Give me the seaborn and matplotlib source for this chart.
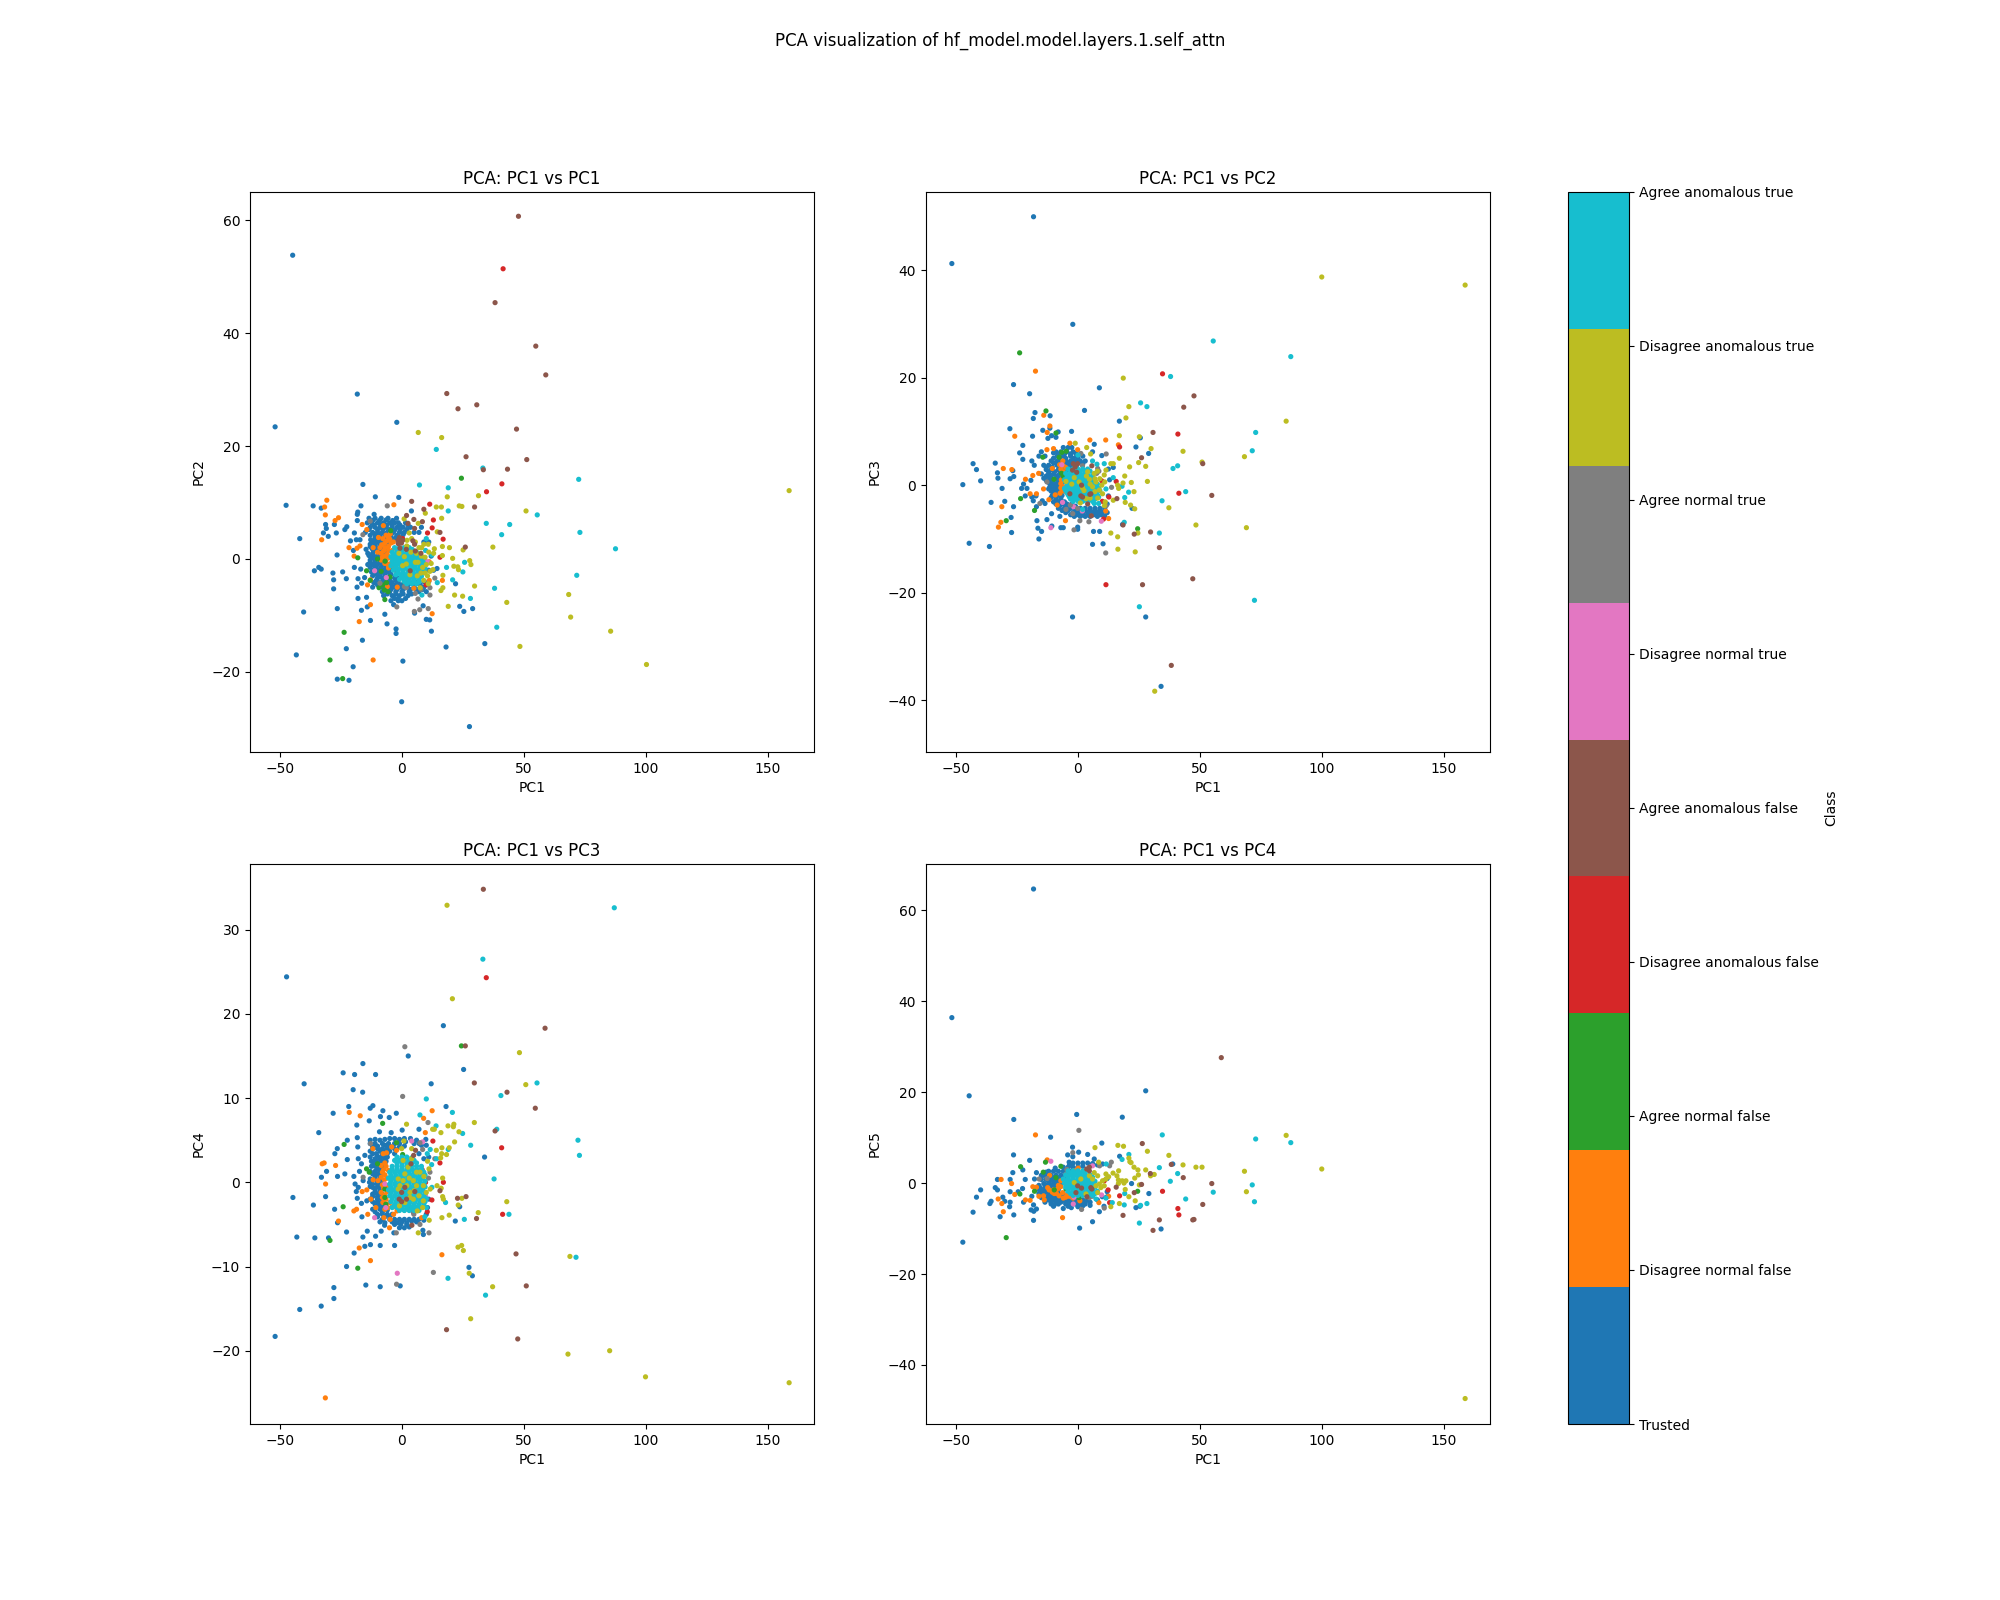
import matplotlib
matplotlib.use('Agg')
import matplotlib.pyplot as plt
import pandas as pd
import seaborn as sns
from matplotlib.cm import ScalarMappable
from matplotlib.colors import Normalize

class_names = ['Trusted', 'Disagree normal false', 'Agree normal false',
               'Disagree anomalous false', 'Agree anomalous false',
               'Disagree normal true', 'Agree normal true',
               'Disagree anomalous true', 'Agree anomalous true']

# panel 1: PC1 vs PC2
p1_trusted = [(-44.8,53.8),(-18.3,29.2),(-2.1,24.2),(-52,23.4),(-16,13.2),(-10.9,11),(-1.3,10.9),(-47.5,9.5),(-36.4,9.4),(-33.1,9),(-16.8,9.4),(3.9,8.5),(-18.1,8.3),(-18.3,7.9),(-11.4,7.9),(-18.3,6.8),(-31.3,6.1),(-31,5.4),(-27.7,6.1),(-22.6,5.7),(-23.4,5.2),(-26.9,4.6),(-32.2,4.6),(-30.2,4),(-41.9,3.6),(-19.5,4.6),(-21.1,3.2),(-18.7,3.4),(-17.2,3.4),(-26.6,0.7),(-19.9,1.5),(-14.7,1.7),(-35.9,-2.1),(-34.1,-1.5),(-33.1,-1.8),(-28.3,-2.5),(-24.3,-2.3),(-28,-3.7),(-22.8,-3.5),(-28,-5.3),(-18,-3.5),(-15.3,-3.3),(-16.5,-4.3),(-18.4,-5),(-19.5,-1.5),(-16.9,-1.8),(-18,-7),(-14.5,-6.8),(-16.6,-9.1),(-14.2,-8.5),(-40.3,-9.4),(-26.5,-8.8),(-12.9,-10.9),(-7,-9.8),(-6.1,-11.5),(-3.4,-8.1),(-1.5,-7.4),(-2.4,-12.4),(-2.4,-13.2),(-16.2,-14.4),(-22.8,-15.9),(-43.3,-17),(-20,-19.1),(-26.5,-21.3),(-21.7,-21.5),(0.4,-18.1),(-0.1,-25.3),(27.7,-29.7),(12.1,-12.8),(18.1,-15.6),(34,-15),(10,-10.7),(11.4,-10.8),(5.2,-9.6),(8.7,-8.3),(23.7,-8.4),(25.4,-9.3),(29,-8.8),(22,-4.4),(14.4,-1.7),
    (-13.5,7.2),(-11,7.2),(-8.5,7.2),(-5.7,7.2),(-2.2,7.2),(-14.2,6.4),(-12.5,6.4),(-10,6.4),(-7.5,6.4),(-5,6.4),(-3,6.4),(-1.5,6.4),(1.5,6.4),(-13,5.6),(-11,5.6),(-9,5.6),(-6.5,5.6),(-4,5.6),(-2,5.6),(0.5,5.6),(3.5,5.6),(8,5.6),(-15,4.7),(-12,4.7),(-10,4.7),(-8,4.7),(-6,4.7),(-3.5,4.7),(-1,4.7),(1,4.7),(5,4.7),(7,4.7),(-11,3.8),(-9,3.8),(-7,3.8),(-5,3.8),(-2.5,3.8),(-12,3),(-10,3),(-8,3),(-6,3),(9,3),(11,3),(-13,2.2),(-11,2.2),(-9,2.2),(-7,2.2),(-11.5,1.4),(-9.5,1.4),(-7.5,1.4),(-6,1.4),(-13.5,0.6),(-12,0.6),(-10,0.6),(-8,0.6),(-6.5,0.6),(12,0.5),(-13,-0.2),(-11,-0.2),(-9,-0.2),(-7,-0.2),(-14,-1),(-12,-1),(-10,-1),(-8,-1),(-6,-1),(-11.5,-1.9),(-9.5,-1.9),(-7,-1.9),(-5,-1.9),(11,-2),(13,-2),(-11,-2.7),(-9,-2.7),(-7,-2.7),(-4.5,-2.7),(-10,-3.4),(-8,-3.4),(-5.5,-3.4),(-3,-3.4),(-1,-3.4),(-11.5,-4.2),(-9,-4.2),(-6,-4.2),(-4,-4.2),(-1.5,-4.2),(1,-4.2),(3.5,-4.2),(6,-4.2),(9,-4),(11,-4),(-12,-5),(-8,-5),(-6,-5),(-3.5,-5),(-1,-5),(2,-5),(5,-5),(9,-5),(-8,-5.8),(-5,-5.8),(-2.5,-5.8),(0,-5.8),(3,-5.8),(7,-5.8),(10,-5.8),(-7.5,-6.5),(-4,-6.5),(-1,-6.5),(2.5,-6.5),(-4.5,-7.4),(0,-7.4),
    (-12,6.8),(-9.2,6.8),(-6.5,6.9),(-3.8,6.8),(-11.5,6),(-8.7,6),(-6.2,6),(-4,6),(-0.8,6),(2.5,6),(-13.5,5.2),(-10,5.2),(-7.8,5.2),(-5.2,5.2),(-3,5.1),(-0.8,5.2),(2,5.2),(-13,4.2),(-11,4.3),(-9,4.2),(-7,4.3),(-4.5,4.2),(-2,4.2),(0.5,4.3),(-12.8,3.4),(-11,3.4),(-9,3.4),(-7,3.4),(-3.5,3.5),(-13,2.6),(-11,2.6),(-9,2.6),(-7,2.6),(-12.2,1.8),(-10,1.8),(-8,1.8),(-14,1),(-12,1),(-9,1),(-7,1),(-12.5,0.2),(-11,0.2),(-9,0.2),(-7.5,0.2),(-13,-0.6),(-11,-0.6),(-9,-0.6),(-7.5,-0.6),(-13,-1.5),(-10.8,-1.5),(-8.5,-1.5),(-6.5,-1.5),(-12.5,-2.3),(-10,-2.3),(-8,-2.3),(-6,-2.3),(-12,-3),(-9.5,-3),(-7,-3.1),(-5,-3),(-2.5,-3),(-10.5,-3.8),(-7.5,-3.8),(-5,-3.8),(-2.5,-3.8),(-10,-4.6),(-7.5,-4.6),(-5,-4.6),(-2.5,-4.6),(0,-4.6),(2.5,-4.6),(5,-4.6),(7.5,-4.6),(-7,-5.4),(-4.5,-5.4),(-2,-5.4),(0.5,-5.4),(3.5,-5.4),(6,-5.4),(8.5,-5.4),(-6,-6.2),(-2.5,-6.2),(0.5,-6.2),(4,-6.2),(-3,-7),(-1.5,-7),(1.5,-7)]
p1_dn_false = [(-30.8,10.4),(-31.7,9.2),(-31.4,7.8),(-26,7.3),(-27.4,6.8),(-32.9,3.4),(-21.7,2),(-18.4,1.9),(-17.2,2.3),(-19.6,0.5),(-3.3,9.6),(-16.3,6.1),(-14.4,5.2),(-7.6,5.9),(-11.8,2),(-12.9,-8.1),(-17.5,-11.1),(-11.8,-17.9),(-14.1,-4.6),(-12.9,-3.7),(-1.9,-5),(4.9,-5.2),(12.4,-9.7),(11.2,-3.8),(16.6,-3.8),(11.2,-0.5),(-6,-4.9),(-9.6,3.8),
    (-6.5,4.2),(-5,3.5),(-7,2.8),(-5.5,2.2),(-9,2),(-7.5,1.4),(-10,1.2),(-6,0.8),(-8,0.3),(-6.5,-0.3),(-4.5,-0.8),(-7,-0.8),(-5.5,-1.6),(-3.5,3),(-4,1.5),(-4.8,4.4),(-3.6,-1.2),(-8.5,1),
    (-7.8,3.6),(-6.2,3.2),(-4.5,2.8),(-7,2),(-5.5,1.5),(-8.3,2.5),(-5.5,3.8),(-7,0.5),(-5.2,0.2),(-5.8,-1),(-8.5,-0.2)]
p1_an_false = [(24.4,14.3),(-18.1,0.2),(-14.5,-2.1),(-23.7,-13),(-29.5,-17.9),(-24.3,-21.2),(-7,-7.2),(-13,-3.8),(-10,0),(-8.5,-2.2),(-9.4,-5.1),(-7.9,-4.6),(-6.3,-4.2),(-4.9,-3.2),(-7.2,-5.5),(-5.7,-5.8),(-4.6,5),(1,-4),(-6.9,-0.4)]
p1_dx_false = [(41.5,51.4),(41,13.3),(34.7,11.9),(11.4,9.7),(12.9,6.9),(12.4,5.5),(10.5,4.6),(16.9,3.5),(15.6,0.3),(9.9,-4.6),(0.3,3.6),(7,0.5)]
p1_ax_false = [(47.8,60.7),(38.2,45.4),(54.9,37.7),(59,32.6),(18.4,29.3),(23,26.6),(30.7,27.3),(47,23),(26.3,18.1),(51.2,17.6),(33.4,15.8),(43.3,15.9),(4,10.2),(29.8,9.2),(9,8.8),(1.9,7.7),(4.9,7),(8.4,6.6),(2.5,6.3),(5.2,5.4),(15.6,4.7),(26,2.1),(3.4,-2.1),(-1,3.8),(-0.2,2.8),(-1.5,2.7),(-0.8,1.9),(0.3,3.3),(-1.6,3.3),(4.5,3.2),(5.2,2.6),(5.5,1.4),(1.8,1.7),(7.8,1)]
p1_dn_true = [(-11.2,-2.1),(-6.4,-3.3),(9.7,-0.3),(10.8,-0.6)]
p1_an_true = [(-6,9.4),(-13,6.7),(-16,4.3),(-2.1,-8.5),(5.1,-9.3),(7.3,-9),(10.8,-8.8),(6.6,-7.1),(5.5,-6.1),(11.5,-6.4),(1.8,-5.1),(1,-4.9),(13.5,-3.4),(-2.2,-2.2),(0.7,-3),(6,-4.4),(7.8,-5.4),(11.5,-5.1),(-9,-4.3),(4.2,-1.5)]
p1_dx_true = [(6.7,22.4),(16.3,21.5),(31.4,11.2),(18.6,11),(158.8,12.1),(14.1,9.2),(16.2,9.2),(23.5,9.4),(24.6,9.3),(50.9,8.5),(9.6,8.1),(16.3,7.2),(0.9,7.1),(6.7,6.3),(14.5,4.8),(37.3,2.1),(25.1,1.6),(19.5,2),(16.6,2.2),(13.3,1.8),(16.6,0.6),(20.8,0.1),(27.8,-0.3),(28.3,-1),(21.3,-1.3),(22.9,-1.4),(23.2,-1.9),(16.8,-2.9),(29.8,-4.8),(16.8,-5.1),(16,-5.6),(21.6,-6.4),(24.9,-6.6),(19,-8.4),(43,-7.7),(68.4,-6.3),(69.2,-10.3),(85.6,-12.8),(48.4,-15.5),(100.3,-18.7),
    (3,4.6),(2.1,3.3),(4,3.6),(7,2),(9,2.6),(10.8,2.6),(8.1,2),(1,0.4),(-1.2,1),(3.7,1.2),(5.5,-0.6),(6.6,-0.6),(1.8,-0.9),(7.8,-2.5),(6.3,-3),(11.5,-2.2),(12.7,-1.9),(9,-3.8),(7.5,-5.1),(13,1),(0.3,-1.2),(8.5,-1.5),(3.3,-2.8),(10.8,-4.4),
    (11,1.2),(9.5,0.3),(12,-0.8),(10,-1),(10.5,-3),(6,1),(8,0.5),(9.5,-2.5),(2,2.3),(5.5,3)]
p1_ax_true = [(72.5,14.1),(14.1,19.4),(33.2,16.1),(7.2,13.1),(19,12.6),(19,8.5),(55.5,7.8),(34.6,6.3),(44.2,6.1),(40.9,4.3),(73,4.7),(87.6,1.8),(71.7,-2.9),(25.7,-0.6),(25,-2.3),(18.3,-1.5),(20.8,-3.7),(14.5,-4.2),(38,-5.2),(28.1,-7),(38.9,-12.1),(8.2,-6.4),(12.3,0.7),(10,3.6),(9.7,1.5),
    (-3,2),(-1,2),(1,2),(3,2),(-4,1.2),(-2,1.2),(0,1.2),(2,1.2),(4,1.2),(6,1.2),(-4.5,0.4),(-2.5,0.4),(-0.5,0.4),(1.5,0.4),(3.5,0.4),(5.5,0.4),(7.5,0.4),(-4,-0.4),(-2,-0.4),(0,-0.4),(2,-0.4),(4,-0.4),(6,-0.4),(8,-0.4),(-4.5,-1.2),(-2.5,-1.2),(-0.5,-1.2),(1.5,-1.2),(3.5,-1.2),(5.5,-1.2),(7.5,-1.2),(9,-1.2),(-3.5,-2),(-1.5,-2),(0.5,-2),(2.5,-2),(4.5,-2),(6.5,-2),(8.5,-2),(-2.5,-2.8),(-0.5,-2.8),(1.5,-2.8),(3.5,-2.8),(5.5,-2.8),(7.5,-2.8),(-1,-3.6),(1,-3.6),(3,-3.6),(5,-3.6),(7,-3.6),(2,-4.4),(4,-4.4),(6,-4.4),
    (-2,1.6),(0,1.7),(2.2,1.6),(4.2,1.7),(-3.3,0.8),(-1.2,0.9),(1,0.8),(3,0.8),(5,0.9),(7,0.8),(-3.4,0),(-1.1,0.1),(0.8,0),(2.9,0.1),(5,0),(7,0),(9,0.1),(-3.5,-0.8),(-1.3,-0.8),(1,-0.7),(3,-0.8),(5,-0.8),(7,-0.8),(8.8,-0.7),(-2.6,-1.6),(-0.6,-1.6),(1.4,-1.6),(3.6,-1.5),(5.5,-1.6),(7.5,-1.6),(9.5,-1.7),(-1.6,-2.4),(0.4,-2.4),(2.5,-2.4),(4.4,-2.4),(6.5,-2.3),(8.5,-2.5),(0,-3.2),(2,-3.2),(4,-3.2),(6,-3.2),(8,-3.1),(1,-4),(3,-4),(5,-4),(7,-4.1)]

# panel 2: PC1 vs PC3
p2_trusted = [(-18.2,49.9),(-51.7,41.2),(-2.1,29.9),(-26.4,18.7),(-19.8,17),(8.8,18.1),(2.7,13.9),(-17.6,13.5),(-18.3,12.4),(-11.4,12.9),(17,11.9),(-27.9,10.5),(-14.4,10.2),(-11.5,10.6),(-8.1,9.9),(-2.6,10),(-18.6,9.1),(-10.8,9.2),(-12.3,8.7),(-9,8.9),(25.6,8.8),(-22.6,7.4),(23.8,7.1),(6.7,7.6),(29,5.9),(-23.9,6),(-22.6,4.8),(-43,4),(-33.9,4.1),(-41.6,2.9),(-33,2.3),(-32.8,1.3),(-39.9,0.8),(-47.2,0.1),(-27.8,1.2),(-26.3,1.6),(-26.7,2.7),(-31.1,-0.6),(-22.3,0.2),(-23.1,-0.6),(-20.9,-0.6),(-19.3,0.9),(-18.9,4.5),(-17.9,3.7),(-35.6,-3.2),(-30,-3),(-26.4,-4),(-27.4,-6),(-27.2,-8.8),(-44.6,-10.8),(-36.3,-11.4),(-16.8,-6.6),(-12.7,-6.4),(-16.4,-8),(-14.9,-8.6),(-16,-10),(-10.7,-7.6),(-7,-7.9),(-6,-7.9),(-0.1,-7.8),(-0.1,-8.2),(6.4,-8.6),(8.9,-8.6),(6,-11),(10.3,-10.9),(-2.2,-24.5),(27.8,-24.5),(34.1,-37.4),(18.3,-7.3),(-7.4,-5.8),(-10.8,-5.3),(-17,-4),(-13.5,-3.4),(-21.6,-2),(-18.9,-2.2),(-17.2,-2),(-18.3,-2.9),(-14.6,-2.9),(22.2,-4.3),(14.5,3.3),(9.8,5.5),
    (-6,7),(-4,7),(-2.5,7),(-15,6.2),(-9,6.2),(-7,6.2),(-4.5,6.2),(-2,6.2),(6,6.2),(-16,5.4),(-13.5,5.4),(-8.5,5.4),(-6,5.4),(-3,5.4),(-0.5,5.4),(2,5.4),(-11,4.5),(-8.5,4.5),(-7,4.5),(-5,4.5),(-3,4.5),(-1,4.5),(1,4.5),(3,4.5),(-14,3.7),(-12,3.7),(-8.5,3.7),(-6.5,3.7),(-4.5,3.7),(-2.5,3.7),(-0.5,3.7),(-13,2.9),(-11,2.9),(-8,2.9),(-6,2.9),(-4,2.9),(-15,2.1),(-12,2.1),(-10,2.1),(-7.5,2.1),(-5.5,2.1),(-14,1.3),(-11.5,1.3),(-9,1.3),(-7,1.3),(-12,0.5),(-10,0.5),(-8,0.5),(-6.5,0.5),(-11.5,-0.3),(-9.5,-0.3),(-7.5,-0.3),(-11,-1.1),(-8.5,-1.1),(-6.5,-1.1),(-10.5,-1.9),(-8.5,-1.9),(-6.5,-1.9),(-9,-2.7),(-7,-2.7),(-9,-3.5),(-6.5,-3.5),(-4.5,-3.5),(-2.5,-3.5),(-8,-4.3),(-5.5,-4.3),(-3,-4.3),(-1,-4.3),(1,-4.3),(3,-4.3),(5,-4.3),(7,-4.3),(9,-4.3),(11,-4.3),(-5,-5.1),(-2,-5.1),(0,-5.1),(2,-5.1),(4,-5.1),(6,-5.1),(8,-5.1),(10,-5.1),(12,-5.1),(-1.5,-5.8),(1,-5.8),(3,-5.8),(5,-5.8),(8,-5.8),(11,-5.8),
    (-10,6),(-8,5.8),(-5.5,5.8),(-3,5.8),(-0.8,5.9),(-10,5),(-7.5,5),(-5,5),(-2,5),(0,5),(-10,4.1),(-7.8,4.1),(-6,4.1),(-4,4.1),(-2,4.1),(0,4.1),(2,4),(-13,3.3),(-10.5,3.3),(-7.3,3.3),(-5.5,3.3),(-3.5,3.3),(-12,2.5),(-9.5,2.5),(-7,2.5),(-5,2.5),(-13,1.7),(-11,1.7),(-8.5,1.7),(-6.5,1.7),(-13,0.9),(-10.5,0.9),(-8,0.9),(-11,0.1),(-9,0.1),(-7,0.1),(-12,-0.7),(-10,-0.7),(-8,-0.7),(-9.5,-1.5),(-7.5,-1.5),(-11,-2.3),(-9,-2.3),(-7,-2.3),(-10,-3.1),(-8,-3.1),(-5.5,-3.1),(-7.5,-3.9),(-5,-3.9),(-3,-3.9),(-1,-3.9),(-6.5,-4.7),(-4,-4.7),(-1,-4.7),(1,-4.7),(3,-4.7),(5,-4.7),(7,-4.7),(9,-4.7),(11,-4.7),(-3,-5.5),(-0.5,-5.5),(2,-5.5),(4,-5.5),(6.5,-5.5),(9.5,-5.5),(12,-3.5),(12.5,-2),(13,1),(12.5,3)]
p2_dn_false = [(-17.4,21.2),(-14,13),(-11.5,11),(-12.6,9.8),(-25.9,9.1),(4.9,8.4),(11.4,8.4),(16.6,7.5),(-3.3,7.8),(-12.7,6.6),(-10,6.8),(-0.1,6.6),(-30.6,3.1),(-27.1,2.9),(-21.5,1.1),(-18.5,1.8),(-16.1,2.2),(-10.5,3.1),(-14.1,-0.7),(-19.6,-1.6),(-17,-1.6),(-11.9,-2.7),(-9.3,-1.8),(-8.5,-3.7),(-31.2,-4),(-31.6,-6.9),(-32.6,-7.8),(-5.1,-6.6),(11.4,-4.8),(12.6,-6.2),(-6.2,4.5),
    (-7.5,3.8),(-6,3.6),(-5,3.3),(-7,3),(-6,2.5),(-6.8,1),(-7,0.3),(-7,-0.5),(-6.5,-1),(-7.3,-1.5),(-5.5,-0.3),(-5,-1.2),(-6,1.8),(-3.5,-0.5),(-2,-0.2)]
p2_an_false = [(-23.9,24.6),(-13.1,13.8),(-9,9.7),(-6.6,6.1),(-4.8,6.3),(-7.7,5.2),(-14.4,5.2),(-9.8,1.1),(-6.7,2.2),(-5.9,1.6),(-23.5,-2.5),(-17.8,-4.7),(-29.4,-6.6),(24.5,-8.1)]
p2_dx_false = [(34.7,20.7),(41,9.5),(17.1,7.1),(9.8,0.8),(15.7,0.7),(41.4,-1.5),(12.7,-2.2),(11.5,-18.5),(10.5,-6.3),(10,-3)]
p2_ax_false = [(47.6,16.6),(43.4,14.5),(30.8,9.8),(26.1,5.1),(51.2,4),(54.9,-1.9),(18.5,-7.4),(23.1,-9.1),(29.8,-8.7),(33.4,-11.6),(47.1,-17.4),(26.5,-18.5),(38.3,-33.5),(16,-2.5),(5.5,-5.7),(-1.9,4),(-0.1,4),(-1.1,3.4),(5.7,3.6),(-2.2,2.8),(-0.5,2.4),(1.5,0),(-3.3,-1.6),(1.9,-2.2),(4.9,-1.7),(4,-3.5),(5.3,-1.6),(1.2,-2)]
p2_dn_true = [(-11.1,-7.9),(-6.3,-3.2),(-1.8,-4),(1.8,-4.8),(9.6,-6.7),(-6.6,3.8)]
p2_an_true = [(11.6,5.8),(1.2,5.9),(-12.7,0.6),(-15.6,-3.4),(13.8,-0.4),(11.6,-3.8),(-4.9,-4.5),(-3.1,-3.7),(-2.1,-5.3),(0.8,-6.6),(4.5,-6.8),(-1.6,-8.3),(11.4,-12.6),(8.6,2.6),(7.7,2.2),(-0.1,-4.3),(1.9,3.6),(8.1,3.1)]
p2_dx_true = [(100,38.7),(158.8,37.2),(85.4,11.9),(18.6,19.9),(20.9,14.6),(19.7,12.5),(17,9.2),(25.2,9),(30,6.8),(43.1,6.3),(68.3,5.3),(50.9,4.3),(-1.1,7.8),(3.6,7),(5.2,5.8),(17,5),(13.5,4),(14.5,4),(21.2,3.4),(24.9,4.2),(27.8,3.5),(19.2,1.7),(28.5,0.7),(21.9,0.5),(18.5,0.4),(16.3,0),(16.7,-0.6),(23,-1.2),(19.4,-3.2),(21.6,-3.7),(23.3,-4.4),(37.3,-4.2),(11.2,-3.1),(10.9,-3.8),(14.5,-2.8),(48.4,-7.4),(69.1,-7.9),(13.5,-8.9),(16.3,-9.6),(24.6,-8.9),(16.4,-11.9),(23.5,-12.4),(31.5,-38.3),
    (4,2.5),(6.7,2.2),(11.5,2.8),(10.8,1.9),(-4.9,0.7),(0.5,0.6),(4.7,1.1),(7.4,0.6),(9.8,0),(1.9,-0.5),(6,-0.3),(8.8,-0.9),(-1.5,1.4),(1,-3.3),(10.1,-1.6),(8.1,-2.4),(3.3,-2.5),
    (5,0.2),(3.5,1.7),(7,1.2),(9,1.2),(11,0.6),(2.5,-1),(5,-2.4),(7,-1.2),(-2.5,0.2),(8,2.6)]
p2_ax_true = [(55.5,26.8),(87.3,23.9),(38,20.2),(25.7,15.3),(28.3,14.6),(72.9,9.8),(71.5,6.4),(40.9,3.6),(39,3.1),(14.5,1.4),(18.1,-0.2),(20.8,-1.3),(44.2,-1.2),(19.2,-2.3),(34.5,-2.9),(19,-6.9),(33.4,-8.9),(25.2,-22.6),(72.4,-21.4),(0,5.6),(6,4.5),(7.8,3.9),(10.8,4),(11.5,-0.7),(8.5,-3.4),(6.7,-3.4),(1.9,-4.5),
    (-4,3),(-2,3),(0,3),(2,3),(4,3),(-5,2.2),(-3,2.2),(-1,2.2),(1,2.2),(3,2.2),(-4.5,1.4),(-2.5,1.4),(-0.5,1.4),(1.5,1.4),(3.5,1.4),(5.5,1.4),(-5,0.6),(-3,0.6),(-1,0.6),(1,0.6),(3,0.6),(5,0.6),(7,0.6),(-4.5,-0.2),(-2.5,-0.2),(-0.5,-0.2),(1.5,-0.2),(3.5,-0.2),(5.5,-0.2),(7.5,-0.2),(-5,-1),(-3,-1),(-1,-1),(1,-1),(3,-1),(5,-1),(7,-1),(9,-1),(-4,-1.8),(-2,-1.8),(0,-1.8),(2,-1.8),(4,-1.8),(6,-1.8),(8,-1.8),(-3,-2.6),(-1,-2.6),(1,-2.6),(3,-2.6),(5,-2.6),(7,-2.6),
    (-3,2.6),(-1,2.6),(1,2.6),(3,2.6),(5,2.6),(-4,1.8),(-2,1.8),(0,1.8),(2,1.8),(4,1.8),(6,1.8),(-5.5,1),(-3.5,1),(-1.5,1),(0.5,1),(2.5,1),(4.5,1),(6.5,1),(-4,0.2),(-2,0.2),(0,0.2),(2,0.2),(4,0.2),(6,0.2),(8,0.2),(-5.5,-0.6),(-3.5,-0.6),(-1.5,-0.6),(0.5,-0.6),(2.5,-0.6),(4.5,-0.6),(6.5,-0.6),(8.5,-0.6),(-4.5,-1.4),(-2.5,-1.4),(-0.5,-1.4),(1.5,-1.4),(3.5,-1.4),(5.5,-1.4),(7.5,-1.4),(-3.5,-2.2),(-1.5,-2.2),(0.5,-2.2),(2.5,-2.2),(4.5,-2.2),(6.5,-2.2),(8.5,-2.2),(-2,-3),(0,-3),(2,-3),(4,-3),(6,-3)]

# panel 3: PC1 vs PC4
p3_trusted = [(-47.3,24.4),(17,18.6),(2.6,15),(-16,14.1),(-24.1,13),(-19.4,12.8),(-10.8,12.8),(-40.1,11.7),(25.3,13.4),(12,11.7),(-20,11),(-16.1,10.7),(-21.8,9),(-13,8.8),(-11.9,9.1),(-7.8,8.5),(-2.3,8.2),(-28.2,8.2),(-13.4,7.3),(-8.8,7.8),(-5.2,7.7),(18.1,9),(-18.5,6.8),(-34.1,5.9),(0.1,6.2),(7,6.3),(-9.2,6),(-4.4,5.9),(-22.4,5),(-18.3,5.3),(-26.5,4),(-18.1,4.2),(-27.5,3.4),(-15.2,3.2),(-17.9,2.8),(-22.4,2.7),(33.9,3),(-16.6,2.2),(-30.9,1.3),(-26.4,0.7),(-33,0.6),(-23.4,1),(-19.7,0.7),(-17.4,1.3),(-15.9,0.2),(-19.2,-0.2),(-17.9,-0.6),(-18.7,-1.1),(-13.3,0),(-31.3,-1.7),(-44.7,-1.8),(-36.3,-2.7),(-27.6,-3.2),(-18.3,-1.9),(-16.6,-2.5),(-14.4,-2.2),(-16.4,-4.1),(-26.4,-4.8),(-22.7,-5.9),(-43.1,-6.5),(-35.7,-6.6),(-30.1,-6.6),(-16,-6.5),(-14.2,-5.8),(-10.8,-6.4),(-8.5,-5.8),(-7.1,-5.1),(-3.3,-6),(-15.2,-7.6),(-12.9,-7.4),(-8.9,-7.5),(-3,-7.5),(-19.6,-8.4),(-22.7,-10),(-27.9,-12.5),(-27.9,-13.8),(-33.1,-14.7),(-41.9,-15.1),(-52,-18.3),(-14.8,-12.2),(-8.9,-12.4),(-0.7,-12.3),(28.9,-11.1),(27.5,-10.1),(8.6,-5.7),(8.8,-6.2),(21.9,-4.6),(23.7,-2.9),(9.8,5.1),(7.1,4.6),
    (-5,5.2),(-3,5.2),(1,5.2),(3.5,5.2),(-13,4.6),(-11,4.6),(-8,4.6),(-5.5,4.6),(-3,4.6),(-1,4.6),(-12,4),(-10,4),(-8,4),(-6,4),(-3,4),(-12,3.4),(-10.5,3.4),(-8,3.4),(-6,3.4),(7,3.4),(-11,2.8),(-9,2.8),(-7,2.8),(9,2.8),(-11.5,2.2),(-9.5,2.2),(-7,2.2),(-10,1.6),(-8,1.6),(-12,1),(-10,1),(-8,1),(-11,0.4),(-9,0.4),(-12,-0.2),(-10,-0.2),(-8,-0.2),(-11,-0.8),(-9,-0.8),(-12,-1.4),(-10,-1.4),(-8,-1.4),(-13,-2),(-10,-2),(-8,-2),(-11,-2.6),(-9,-2.6),(-7,-2.6),(-12,-3.2),(-9,-3.2),(-7,-3.2),(-10,-3.8),(-8,-3.8),(-6,-3.8),(-4,-3.8),(10,-3.8),(-8,-4.4),(-5,-4.4),(-3,-4.4),(-1,-4.4),(1,-4.4),(3,-4.4),(5,-4.4),(7,-4.4),(-3,-5),(-0.5,-5),(2,-5),
    (-13,5),(-11,5.1),(-9,5),(-7,5.1),(-1,5.1),(1.5,4.8),(-12,4.3),(-10,4.3),(-7,4.4),(-5,4.3),(-1,4.2),(1,4.3),(5,4.6),(-13,3.7),(-9,3.7),(-7,3.7),(-5,3.7),(-3,3.4),(-13,3),(-10,3.1),(-8,3.1),(-6,3),(-12.5,2.5),(-10.5,2.5),(-8.5,2.5),(-6.5,2.5),(-12.5,1.9),(-11,1.9),(-9,1.9),(-7.5,1.9),(-13,1.3),(-11,1.3),(-9,1.3),(-11,0.7),(-9,0.7),(-13,0.4),(-10,0.1),(-8.5,0.1),(-13,-0.5),(-12,-0.6),(-10,-0.5),(-8,-0.6),(-11,-1.1),(-9,-1.1),(-12,-1.7),(-10,-1.7),(-8,-1.7),(-12,-2.3),(-10,-2.3),(-8,-2.3),(-10,-2.9),(-8,-2.9),(-11,-3.5),(-8,-3.5),(-6,-3.3),(-10,-4.1),(-7,-4.1),(-5,-4.1),(-9,-4.7),(-7,-4.8),(-4,-4.7),(-2,-4.8),(0,-4.7),(2,-4.8),(4,-4.6),(6,-4.7),(9,-4.5),(-1,-5.4),(1,-5.4),(3,-5.3),(10.5,-3),(11,-2),(11,3),(10,4.4),(6,5),(8,4.4)]
p3_dn_false = [(-21.6,8.3),(-17.1,7.9),(12.4,8.5),(8.9,7.6),(9.6,5.9),(-32.7,2.2),(-31.9,2.3),(-27.2,2),(-31.3,-0.2),(-16.3,-1.1),(-14.4,-0.9),(-12.7,-2),(-19.7,-3.4),(-18.6,-3.2),(-26,-4.6),(-14,-3.8),(-10.7,-3),(-7.4,-4.2),(-4.8,-4.4),(-5.1,-5.4),(-3.4,-3.8),(8.1,-4.2),(-17.5,-7.8),(-12.9,-9.3),(16.4,-8.6),(-11.9,4),(-7.7,3.4),(-6.3,3.5),(-4.2,4.2),(-2.2,3.8),(-9.8,0.2),(-11.8,0.3),(-31.4,-25.6),
    (-7.5,1.5),(-6.5,1.9),(-8,1.2),(-7,0.9),(-6,0.5),(-8,-0.3),(-7.5,-0.7),(-6,-1.1),(-7,-1.5),(-6.5,-2),(-5,-2.4),(-4,-2.9),(-3,-2.9),(-7,-3.2),(0,-2.8),(3,-2.9),(-5.5,1.4),
    (-8.5,2),(-7,2.3),(-8.5,0.6),(-7.2,0.3),(-8.5,-1.2),(-6,-0.4),(-7.8,-2.4),(-5.8,-3),(-2,-3.4),(1,-3.3),(5,-3.4),(-8,-1.8)]
p3_an_false = [(-7.9,7),(24.4,16.2),(-23.7,4.5),(-29.5,-6.9),(-18.1,-10.2),(-24.1,-2.9),(-2.2,4.7),(-14.5,1.6),(-13.4,1.2),(-10,2.2),(-7,-0.8),(-7,-1.8),(0.3,3.3),(-6.6,-2.6)]
p3_dx_false = [(34.6,24.3),(40.9,4.1),(12.7,4.9),(15.6,2.3),(8.3,1.5),(17,0),(9.7,0),(12.3,-2.1),(10.4,-3.5),(41.3,-3.8)]
p3_ax_false = [(33.4,34.8),(58.7,18.3),(26,16.2),(29.7,11.8),(43.1,10.7),(54.7,8.8),(38.2,6.1),(5.6,3.8),(4.8,3.2),(3.7,2.2),(15.6,-1),(22.8,-1.9),(26.3,-1.7),(30.6,-4.3),(4.1,-5.1),(46.8,-8.5),(51,-12.3),(18.3,-17.5),(47.5,-18.6),(1.2,-0.6),(-0.1,-1.2),(-0.1,-2.3),(5.3,-1.1),(1.9,-2),(-1.1,-2)]
p3_dn_true = [(4,4.9),(8.5,4.8),(-1.9,-10.8),(-11.2,-4.2),(-6.6,-3),(-7,-0.2),(9.7,-1.6)]
p3_an_true = [(1.2,16.1),(0.3,10.2),(10.7,7.1),(-12.9,4.6),(-15.9,0.6),(7.4,4.7),(8.5,3.9),(13.5,2.8),(11.5,1.2),(10.9,0.5),(4.7,-3.6),(7.4,-5),(11.1,-6),(-2.3,-6),(12.9,-10.7),(-2.2,-12.1),(3.3,-3.2),(4.9,-3.8)]
p3_dx_true = [(18.5,32.9),(20.7,21.8),(48.2,15.4),(50.8,11.6),(29.7,7.1),(1.9,6.9),(12.6,6.3),(13.3,6.3),(18.9,6.7),(21.1,6.6),(21.3,6.9),(16,5.9),(23.4,6),(21.6,4.8),(0.8,4.9),(-0.1,4),(4,4),(16.4,4.1),(19.4,4.1),(14.1,3.8),(16.3,3.4),(18.3,3.3),(15.9,2.9),(10.5,2.5),(11.1,1.6),(16.7,0.5),(16.1,-0.7),(14.4,-0.4),(11.6,-0.8),(16.7,-1.7),(17,-2),(24.6,-1.9),(23.1,-2.7),(43,-2.3),(31.3,-3.6),(19.4,-3.9),(16.4,-4.2),(11.2,-4.5),(6.3,-3.4),(6.7,-6),(23,-7.7),(24.5,-7.5),(25.2,-8.1),(27.6,-10.8),(37.2,-12.4),(68.9,-8.8),(28.2,-16.2),(68.1,-20.4),(85.2,-20),(99.9,-23.1),(158.8,-23.8),
    (0.5,2.6),(4,2.8),(-1.5,0.4),(1.2,1),(4.7,0.2),(7.4,1.2),(0.5,0.2),(6,-0.4),(8.8,-0.4),(3.3,-1.2),(4.7,-2),(3.3,-1.8),(-0.8,-0.4),(8.8,-2.2),(-1.5,-0.8),(1.2,-2.4),
    (2,-0.4),(6,1.2),(3,0.5),(-1,-2.8),(9,0.7),(7,-1.6),(2.5,1.8),(5,-1),(8.5,-3),(10,-1.2)]
p3_ax_true = [(87.1,32.6),(33.2,26.5),(55.4,11.8),(40.6,10.3),(10,9.9),(7.4,8),(20.7,8.3),(14,6.7),(24.9,5.8),(38.9,6.3),(28.2,4.4),(19,3.9),(72.2,5),(72.8,3.2),(37.8,0.4),(12.3,-0.6),(17.9,-2.4),(25.6,-4.4),(43.9,-3.8),(71.4,-8.9),(18.9,-11.4),(34.3,-13.4),(11.6,3.9),(14.2,2.8),(12.2,2.1),(9.4,-4.1),(10.4,3.4),
    (-3,2.6),(-1,2.6),(1,2.6),(3,2.6),(5,2.6),(-4,1.9),(-2,1.9),(0,1.9),(2,1.9),(4,1.9),(6,1.9),(8,1.9),(-5,1.2),(-3,1.2),(-1,1.2),(1,1.2),(3,1.2),(5,1.2),(7,1.2),(9,1.2),(-5.5,0.5),(-3.5,0.5),(-1.5,0.5),(0.5,0.5),(2.5,0.5),(4.5,0.5),(6.5,0.5),(8.5,0.5),(-5,-0.2),(-3,-0.2),(-1,-0.2),(1,-0.2),(3,-0.2),(5,-0.2),(7,-0.2),(9,-0.2),(-5.5,-0.9),(-3.5,-0.9),(-1.5,-0.9),(0.5,-0.9),(2.5,-0.9),(4.5,-0.9),(6.5,-0.9),(8.5,-0.9),(-5,-1.6),(-3,-1.6),(-1,-1.6),(1,-1.6),(3,-1.6),(5,-1.6),(7,-1.6),(9,-1.6),(-4.5,-2.3),(-2.5,-2.3),(-0.5,-2.3),(1.5,-2.3),(3.5,-2.3),(5.5,-2.3),(7.5,-2.3),(9.5,-2.3),(-4,-3),(-2,-3),(0,-3),(2,-3),(4,-3),(6,-3),(8,-3),(10,-3),
    (-2,3),(0,3),(2,3),(4,2.9),(-2,2.25),(0,2.25),(2,2.25),(4,2.25),(6,2.3),(-4,1.55),(-2,1.55),(0,1.55),(2,1.55),(4,1.55),(6,1.55),(8,1.55),(-4.5,0.85),(-2.5,0.85),(-0.5,0.85),(1.5,0.85),(3.5,0.85),(5.5,0.85),(7.5,0.85),(9.5,0.85),(-4.5,0.15),(-2.5,0.15),(-0.5,0.15),(1.5,0.15),(3.5,0.15),(5.5,0.15),(7.5,0.15),(9.5,0.15),(-4.5,-0.55),(-2.5,-0.55),(-0.5,-0.55),(1.5,-0.55),(3.5,-0.55),(5.5,-0.55),(7.5,-0.55),(9.5,-0.55),(-4.5,-1.25),(-2.5,-1.25),(-0.5,-1.25),(1.5,-1.25),(3.5,-1.25),(5.5,-1.25),(7.5,-1.25),(9.5,-1.25),(-4,-1.95),(-2,-1.95),(0,-1.95),(2,-1.95),(4,-1.95),(6,-1.95),(8,-1.95),(10,-1.95),(-3,-2.65),(-1,-2.65),(1,-2.65),(3,-2.65),(5,-2.65),(7,-2.65),(9,-2.65),(-1,-3.35),(1,-3.35),(3,-3.35),(5,-3.35),(7,-3.35)]

# panel 4: PC1 vs PC5
p4_trusted = [(-18.2,64.7),(-51.7,36.4),(-44.6,19.2),(27.8,20.3),(-26.3,14),(-0.5,15.1),(18.2,14.5),(-11.2,10.1),(9.8,8.8),(-2.2,7.9),(0.3,6.8),(-26.4,6.2),(-19.8,5),(-4.2,6.2),(-2.1,5.8),(4,6.3),(17.1,5.9),(-26.7,2.3),(-22.6,2.9),(-33,0.8),(-27.8,0.8),(-21.6,0.8),(-39.9,-1.5),(-33.9,-1),(-33,-1.5),(-27.8,-1.9),(-22.7,-1.2),(-24.5,-1.9),(-41.6,-3.1),(-36.1,-4.5),(-35.6,-4),(-30.8,-3.1),(-30,-4),(-27.8,-4.2),(-28,-5.2),(-22.3,-4.2),(-18.9,-2.9),(-18.2,-4.8),(-43,-6.4),(-31.9,-7.4),(-26.3,-7),(-19.2,-5.9),(-18.1,-6.2),(-17,-5.7),(-18.2,-8.2),(-47.2,-13),(-9.7,-4.8),(-6,-5.6),(-2.7,-5.4),(0.7,-9.9),(6,-8.5),(8.8,-6.3),(10.7,-5.1),(23.8,-5.4),(25.4,-5.1),(29.1,-2.3),(22,-0.1),(34.1,-10.1),(38.9,4.2),(10.1,4.2),(6.7,5.3),(-3.6,4.6),(-9.3,3.3),(-17,2.3),(-17.8,0.9),
    (0,4.4),(2,4.4),(4,4.4),(-4,3.5),(-2,3.5),(0,3.5),(-12,2.6),(-8,2.6),(-6,2.6),(-3,2.6),(-14,1.7),(-11,1.7),(-9,1.7),(-7,1.7),(-5,1.7),(-13,0.8),(-11,0.8),(-9,0.8),(-7,0.8),(-14,-0.1),(-12,-0.1),(-10,-0.1),(-8,-0.1),(-15.5,-1),(-13.5,-1),(-11.5,-1),(-9.5,-1),(-15,-1.9),(-13,-1.9),(-11,-1.9),(-9,-1.9),(12,-1.9),(-14,-2.8),(-12,-2.8),(-10,-2.8),(-8,-2.8),(-6,-2.8),(-12,-3.7),(-10,-3.7),(-8,-3.7),(-6,-3.7),(-4,-3.7),(-2,-3.7),(0,-3.7),(2,-3.7),(4,-3.7),(8,-3.7),(-11,-4.6),(-8,-4.6),(-5,-4.6),(-3,-4.6),(-1,-4.6),(1,-4.6),(3,-4.6),
    (-2,4.4),(6,4.3),(8,4),(-6,3.5),(-3.5,3.9),(2,3.7),(-13,2.4),(-10,2.6),(-4.5,2.6),(-1,2.6),(-15,1.7),(-12.5,1.7),(-10,1.2),(-8,1.2),(-6,1.2),(-15,0.8),(-12,0.4),(-10,0.4),(-8,0.4),(-6,0.4),(-16,-0.5),(-13,-0.5),(-11,-0.5),(-9,-0.5),(-7,-0.5),(-16,-1.4),(-14,-1.4),(-12,-1.4),(-10,-1.4),(-8,-1.4),(-16,-2.3),(-14,-2.3),(-12,-2.3),(-10,-2.3),(-8,-2.3),(-6,-2.3),(-15,-3.2),(-13,-3.2),(-11,-3.2),(-9,-3.2),(-7,-3.2),(-5,-3.2),(-2,-3.2),(-13.5,-4.2),(-11,-4.2),(-9,-4.2),(-7,-4.2),(-5,-4.2),(-3,-4.2),(-1,-4.2),(1,-4.2),(3,-4.2),(5,-4.2),(10,-3),(12,-3),(12,1),(-10,-5.1),(-4,-5.1),(0,-5.2),(2,-5),(5,-4.9)]
p4_dn_false = [(-17.4,10.6),(-12.6,5.1),(-11.6,1.7),(-31.5,0.8),(-27.2,-0.1),(-18.5,-0.8),(-17,-0.9),(-25.9,-2.5),(-32.7,-3.5),(-31.2,-4.5),(-30.6,-6.3),(-21.5,-3.7),(-19.6,-3.8),(-16,-2.9),(-14.1,-2.8),(-13.8,-3.7),(-6.3,-7.6),(8.6,-4.3),(-12.4,-1),(-11.8,-1.5),(-8.3,-1.3),(-7,-0.8),(-9.7,-2.3),(-7.7,-2.8),(-6.3,-2.1),(-3.6,-2.9),(0.8,-3.9),(-7,0.5),(-1.5,2.7),(0.1,3.3),(12.6,-2.9),
    (-10,-1.5),(-8.8,-2.3),(-6,-3.3),(-5,-3.1),(-2,-3.3),(-8,-0.5),(-10.5,-2),(-4.5,-2.6)]
p4_an_false = [(-29.4,-12),(-23.5,3.6),(-23.8,-2.4),(-17.8,-1.8),(-14.2,2.4),(-13.3,4.6),(-7,3.7),(-9.7,-1.5),(-9,1.2),(-4.9,-1.3),(24.5,-1.8),(0.5,-3.2)]
p4_dx_false = [(34.7,-1.8),(12.4,-1.5),(17.1,-2.8),(13,-4.3),(41,-5.6),(41.4,-7),(10.8,0.5)]
p4_ax_false = [(58.8,27.6),(26.4,8.7),(38.3,4.1),(29.7,2.1),(43.2,1.2),(26.1,-0.3),(54.9,-0.1),(15.7,-0.9),(23.1,-2.1),(51.2,-4.7),(18.5,-7.1),(33.4,-8.1),(47.1,-8.1),(47.6,-8),(30.8,-10.4),(4.7,3.5),(4.7,2.7),(3.6,3.1),(-0.1,-0.6),(1.5,-1.1),(5.3,-1),(5.7,-1.3),(3.7,-3),(-0.8,-2.1)]
p4_dn_true = [(-11.1,4.8),(-1.6,-3.1),(-1.9,-4.6),(9.7,-2.6),(1.9,-2.4),(6,3.8)]
p4_an_true = [(0.4,11.6),(-2.1,6.7),(13.7,4.6),(13,3.8),(8.9,3.8),(-4.5,3),(-15.9,0.9),(-12.6,1),(1.5,-5.8),(10.8,-5.5),(6,-2.9),(4.7,-3.2),(-4.9,2)]
p4_dx_true = [(100,3.1),(158.8,-47.4),(85.4,10.5),(68.3,2.6),(69.1,-1.9),(48.4,3.5),(50.9,3.5),(43.1,4),(37.3,6.1),(28.5,7),(18.7,8.1),(16.4,8.3),(7,7.8),(8.5,4.6),(20.9,5.5),(21.8,4.5),(21.3,4.7),(23,3.5),(16.7,2.7),(14.4,2.2),(24.6,2.9),(27.8,2.9),(31.3,1.9),(29.8,1.6),(24.8,1.8),(23.3,1.1),(16,1.6),(16.6,0.7),(18.2,0.5),(19.7,0.5),(16.6,-0.1),(18.9,0),(25.2,-0.4),(19.4,-1.4),(20.9,-3),(17,-4.5),(23.5,-3.9),(13.5,-5.2),(11.5,2),(12.6,1.4),
    (1.2,0.9),(8.1,1.6),(8.8,-0.2),(10.1,0.5),(6.7,2.3),(4.7,1.6),(11.5,0.9),(9.4,-1),(7.4,-0.6),(6,0.9),(3.3,-2.4),(-1.5,0.1),(10.8,-0.6),(8.1,-2.1)]
p4_ax_true = [(34.6,10.6),(72.9,9.7),(87.3,8.9),(20.9,6.3),(18.1,5.2),(33.4,3.4),(40.9,2.1),(37.9,0.4),(71.5,-0.4),(55.5,-2),(72.4,-4.1),(44.2,-3.5),(28.3,-4.5),(25.7,-4.9),(25.2,-8.8),(19,-4.8),(19.2,-2.3),(14.1,-4.3),(11.6,4.2),(11.5,-3.3),(7.4,-3.5),
    (-4,2.7),(-2,2.7),(0,2.7),(2,2.7),(-5,1.8),(-3,1.8),(-1,1.8),(1,1.8),(3,1.8),(5,1.8),(-6,0.9),(-4,0.9),(-2,0.9),(0,0.9),(2,0.9),(4,0.9),(6,0.9),(-5.5,0),(-3.5,0),(-1.5,0),(0.5,0),(2.5,0),(4.5,0),(6.5,0),(-5,-0.9),(-3,-0.9),(-1,-0.9),(1,-0.9),(3,-0.9),(5,-0.9),(7,-0.9),(-4,-1.8),(-2,-1.8),(0,-1.8),(2,-1.8),(4,-1.8),(6,-1.8),(8,-1.8),(-2,-2.7),(0,-2.7),(2,-2.7),(4,-2.7),(6,-2.7),
    (-3,2.2),(-1,2.2),(1,2.2),(3,2.2),(-4,1.3),(-2,1.3),(0,1.3),(2,1.3),(4,1.3),(6,1.3),(-5,0.4),(-3,0.4),(-1,0.4),(1,0.4),(3,0.4),(5,0.4),(7,0.4),(-4.5,-0.5),(-2.5,-0.5),(-0.5,-0.5),(1.5,-0.5),(3.5,-0.5),(5.5,-0.5),(-4,-1.4),(-2,-1.4),(0,-1.4),(2,-1.4),(4,-1.4),(6,-1.4),(-3,-2.3),(-1,-2.3),(1,-2.3),(3,-2.3),(5,-2.3),(7,-2.3)]

panels = [
    ('PC1 vs PC1', 'PC2', [p1_trusted, p1_dn_false, p1_an_false, p1_dx_false, p1_ax_false, p1_dn_true, p1_an_true, p1_dx_true, p1_ax_true], (-62.3, 169), (-34.2, 65)),
    ('PC1 vs PC2', 'PC3', [p2_trusted, p2_dn_false, p2_an_false, p2_dx_false, p2_ax_false, p2_dn_true, p2_an_true, p2_dx_true, p2_ax_true], (-62.3, 169), (-49.6, 54.5)),
    ('PC1 vs PC3', 'PC4', [p3_trusted, p3_dn_false, p3_an_false, p3_dx_false, p3_ax_false, p3_dn_true, p3_an_true, p3_dx_true, p3_ax_true], (-62.3, 169), (-28.7, 37.8)),
    ('PC1 vs PC4', 'PC5', [p4_trusted, p4_dn_false, p4_an_false, p4_dx_false, p4_ax_false, p4_dn_true, p4_an_true, p4_dx_true, p4_ax_true], (-62.3, 169), (-53, 70.2)),
]
# cyan goes under the olive and brown points, as it does in the dense middle
draw_order = [0, 1, 2, 3, 5, 6, 8, 7, 4]

cmap = plt.get_cmap('tab10', 9)
palette = {i: cmap(i) for i in range(9)}

fig = plt.figure(figsize=(20, 16), dpi=100)
boxes = [[0.125, 0.53, 0.282, 0.35], [0.463, 0.53, 0.282, 0.35],
         [0.125, 0.11, 0.282, 0.35], [0.463, 0.11, 0.282, 0.35]]

for box, (name, ylabel, groups, xlim, ylim) in zip(boxes, panels):
    ax = fig.add_axes(box)
    rows = []
    for c in draw_order:
        rows += [(x, y, c) for x, y in groups[c]]
    df = pd.DataFrame(rows, columns=['x', 'y', 'cls'])
    sns.scatterplot(data=df, x='x', y='y', hue='cls', palette=palette, s=5,
                    edgecolor='face', linewidth=1.5, legend=False, ax=ax)
    ax.set_xlim(xlim)
    ax.set_ylim(ylim)
    ax.set_title('PCA: ' + name)
    ax.set_xlabel('PC1')
    ax.set_ylabel(ylabel)

cax = fig.add_axes([0.784, 0.11, 0.0305, 0.77])
cb = fig.colorbar(ScalarMappable(norm=Normalize(0, 8), cmap=cmap), cax=cax, ticks=list(range(9)))
cb.set_ticklabels(class_names)
cb.set_label('Class')

fig.suptitle('PCA visualization of hf_model.model.layers.1.self_attn')
fig.savefig('out.png', dpi=100)
